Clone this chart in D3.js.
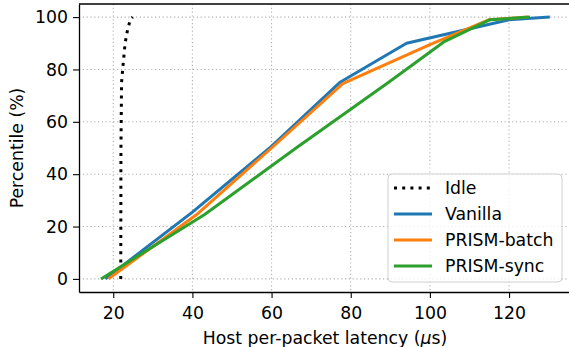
<!DOCTYPE html>
<html>
<head>
<meta charset="utf-8">
<script src="https://cdn.jsdelivr.net/npm/d3@7"></script>
<style>
  body { margin: 0; background: #fff; }
  svg { display: block; font-family: "DejaVu Sans", sans-serif; }
</style>
</head>
<body>
<svg id="chart" width="569" height="347"></svg>
<script>
// series: [latency (us), percentile]
const seriesNames = ["Idle", "Vanilla", "PRISM-batch", "PRISM-sync"];
const idle = [[21.9, 0], [21.95, 50], [22.1, 75], [22.5, 82], [23.0, 90], [23.6, 95], [24.3, 99], [24.9, 100]];
const vanilla = [[18.0, 0], [40.0, 25.5], [59.5, 50], [77.2, 75], [94.1, 90], [120.0, 99], [130.3, 100]];
const prismBatch = [[18.8, 0], [41.0, 24.5], [60.0, 50], [78.0, 74.6], [100.0, 89.5], [115.0, 99], [124.7, 100]];
const prismSync = [[16.9, 0], [43.0, 24.5], [66.2, 50], [89.5, 75], [103.5, 90.5], [115.2, 99], [125.3, 100]];
const xTicks = [20, 40, 60, 80, 100, 120];
const yTicks = [0, 20, 40, 60, 80, 100];

const colors = ["#000000", "#1f77b4", "#ff7f0e", "#2ca02c"];
const allSeries = [idle, vanilla, prismBatch, prismSync];

const svg = d3.select("#chart");
const margin = { top: 4, right: -2, bottom: 55, left: 79 };
const width = +svg.attr("width") - margin.left - margin.right;
const height = +svg.attr("height") - margin.top - margin.bottom;

const x = d3.scaleLinear().domain([11.35, 135.65]).range([0, width]);
const y = d3.scaleLinear().domain([-5, 105]).range([height, 0]);

const chart = svg.append("g").attr("transform", "translate(" + margin.left + "," + margin.top + ")");

// grid
chart.append("g").selectAll("line").data(xTicks).enter().append("line")
  .attr("x1", d => x(d)).attr("x2", d => x(d))
  .attr("y1", 0).attr("y2", height)
  .attr("stroke", "#b0b0b0").attr("stroke-width", 1.1)
  .attr("stroke-dasharray", "1.2,2.6");
chart.append("g").selectAll("line").data(yTicks).enter().append("line")
  .attr("y1", d => y(d)).attr("y2", d => y(d))
  .attr("x1", 0).attr("x2", width)
  .attr("stroke", "#b0b0b0").attr("stroke-width", 1.1)
  .attr("stroke-dasharray", "1.2,2.6");

// lines
const line = d3.line().x(d => x(d[0])).y(d => y(d[1]));
allSeries.forEach(function (s, i) {
  chart.append("path")
    .datum(s)
    .attr("fill", "none")
    .attr("stroke", colors[i])
    .attr("stroke-width", 3)
    .attr("stroke-linejoin", "round")
    .attr("stroke-dasharray", i === 0 ? "3,5.2" : null)
    .attr("d", line);
});

// axes
const xAxis = chart.append("g")
  .attr("transform", "translate(0," + height + ")")
  .call(d3.axisBottom(x).tickValues(xTicks).tickSize(6).tickSizeOuter(0).tickPadding(5));
const yAxis = chart.append("g")
  .call(d3.axisLeft(y).tickValues(yTicks).tickSize(6).tickSizeOuter(0).tickPadding(5));
[xAxis, yAxis].forEach(function (a) {
  a.selectAll("text").attr("font-size", 17.3).attr("fill", "#000").attr("font-family", "DejaVu Sans");
  a.selectAll("line").attr("stroke", "#000").attr("stroke-width", 1.1);
  a.select(".domain").attr("stroke", "#000").attr("stroke-width", 1.3);
});
xAxis.selectAll("text").attr("dy", "0.9em");
// top spine
chart.append("line")
  .attr("x1", 0).attr("x2", width).attr("y1", 0).attr("y2", 0)
  .attr("stroke", "#000").attr("stroke-width", 1.3);

// axis titles
const xt = svg.append("text")
  .attr("x", margin.left + width / 2).attr("y", 344)
  .attr("text-anchor", "middle").attr("font-size", 17.3);
xt.append("tspan").text("Host per-packet latency (");
xt.append("tspan").attr("font-style", "italic").text("\u03bc");
xt.append("tspan").text("s)");

svg.append("text")
  .attr("transform", "translate(23," + (margin.top + height / 2) + ") rotate(-90)")
  .attr("text-anchor", "middle").attr("font-size", 17.3)
  .text("Percentile (%)");

// legend
const lg = svg.append("g").attr("transform", "translate(388,174)");
lg.append("rect")
  .attr("width", 174).attr("height", 108).attr("rx", 4)
  .attr("fill", "#fff").attr("fill-opacity", 0.8)
  .attr("stroke", "#d0d0d0").attr("stroke-width", 1);
seriesNames.forEach(function (name, i) {
  const cy = 14 + i * 26;
  lg.append("line")
    .attr("x1", 6).attr("x2", 44).attr("y1", cy).attr("y2", cy)
    .attr("stroke", colors[i]).attr("stroke-width", 3)
    .attr("stroke-dasharray", i === 0 ? "3,5.2" : null);
  lg.append("text")
    .attr("x", 57).attr("y", cy).attr("dy", "0.36em")
    .attr("font-size", 17.3).text(name);
});
</script>
</body>
</html>
